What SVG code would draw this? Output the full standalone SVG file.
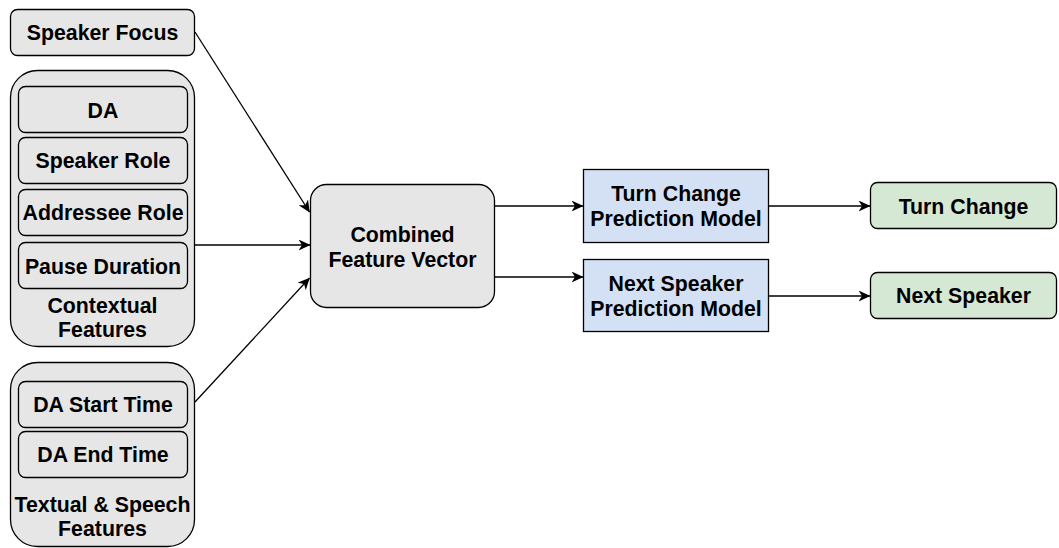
<svg xmlns="http://www.w3.org/2000/svg" width="1059" height="548" viewBox="0 0 1059 548">
<style>
.g{fill:#e6e6e6;stroke:#000;stroke-width:1.3}
.b{fill:#d4e1f5;stroke:#000;stroke-width:1.3}
.gr{fill:#d5e8d4;stroke:#000;stroke-width:1.3}
text{font-family:"Liberation Sans",Arial,Helvetica,sans-serif;font-weight:bold;font-size:21.3px;fill:#000;text-anchor:middle}
.c path{fill:none;stroke:#000;stroke-width:1.3}
</style>
<defs>
<marker id="a" viewBox="0 0 12 11" refX="11.5" refY="5.5" markerWidth="12" markerHeight="11" markerUnits="userSpaceOnUse" orient="auto">
<path d="M0,0 L12,5.5 L0,11 L3.5,5.5 z" fill="#000"/>
</marker>
</defs>
<g class="c">
<path d="M195,32 L309.5,212" marker-end="url(#a)"/>
<path d="M195,245 L310,245" marker-end="url(#a)"/>
<path d="M195,402 L309.5,278" marker-end="url(#a)"/>
<path d="M494,206 L583,206" marker-end="url(#a)"/>
<path d="M494,277 L583,277" marker-end="url(#a)"/>
<path d="M769,206 L870,206" marker-end="url(#a)"/>
<path d="M769,296 L870,296" marker-end="url(#a)"/>
</g>
<g id="speaker-focus">
<rect class="g" x="10.5" y="9.5" width="184" height="46" rx="7"/>
<text x="102.5" y="40">Speaker Focus</text>
</g>
<g id="contextual-features">
<rect class="g" x="10.5" y="70.5" width="184" height="276" rx="27"/>
<text x="102.5" y="313">Contextual</text>
<text x="102.5" y="337">Features</text>
</g>
<g id="da">
<rect class="g" x="18.5" y="86.5" width="169" height="46" rx="7"/>
<text x="103" y="118">DA</text>
</g>
<g id="speaker-role">
<rect class="g" x="18.5" y="137.5" width="169" height="46" rx="7"/>
<text x="103" y="168">Speaker Role</text>
</g>
<g id="addressee-role">
<rect class="g" x="18.5" y="189.5" width="169" height="46" rx="7"/>
<text x="103" y="220">Addressee Role</text>
</g>
<g id="pause-duration">
<rect class="g" x="18.5" y="242.5" width="169" height="46" rx="7"/>
<text x="103" y="274">Pause Duration</text>
</g>
<g id="textual-speech-features">
<rect class="g" x="10.5" y="362.5" width="184" height="184" rx="27"/>
<text x="102.5" y="512">Textual &amp; Speech</text>
<text x="102.5" y="536">Features</text>
</g>
<g id="da-start-time">
<rect class="g" x="18.5" y="381.5" width="169" height="46" rx="7"/>
<text x="103" y="412">DA Start Time</text>
</g>
<g id="da-end-time">
<rect class="g" x="18.5" y="431.5" width="169" height="46" rx="7"/>
<text x="103" y="462">DA End Time</text>
</g>
<g id="combined-feature-vector">
<rect class="g" x="310.5" y="184.5" width="184" height="123" rx="16"/>
<text x="402.5" y="242">Combined</text>
<text x="402.5" y="267">Feature Vector</text>
</g>
<g id="turn-change-model">
<rect class="b" x="583.5" y="169.5" width="185" height="73"/>
<text x="676" y="201">Turn Change</text>
<text x="676" y="226">Prediction Model</text>
</g>
<g id="next-speaker-model">
<rect class="b" x="583.5" y="259.5" width="185" height="72"/>
<text x="676" y="291">Next Speaker</text>
<text x="676" y="316">Prediction Model</text>
</g>
<g id="turn-change">
<rect class="gr" x="870.5" y="182.5" width="186" height="46" rx="7"/>
<text x="963.5" y="214">Turn Change</text>
</g>
<g id="next-speaker">
<rect class="gr" x="870.5" y="272.5" width="186" height="46" rx="7"/>
<text x="963.5" y="303">Next Speaker</text>
</g>
</svg>
